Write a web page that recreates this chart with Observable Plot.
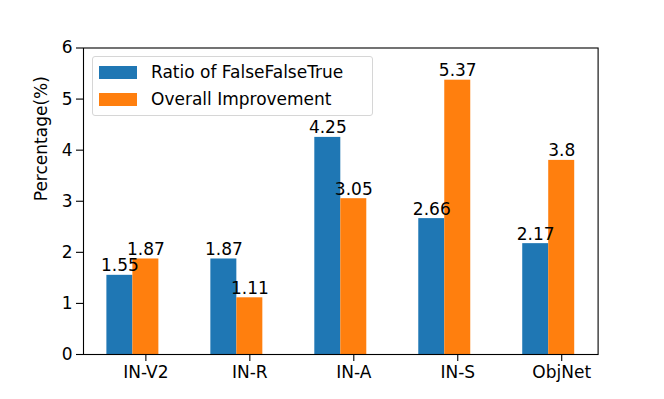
<!DOCTYPE html>
<html><head><meta charset="utf-8">
<script src="https://cdn.jsdelivr.net/npm/d3@7"></script>
<script src="https://cdn.jsdelivr.net/npm/@observablehq/plot@0.6"></script>
<style>
body{margin:0;background:#fff;font-family:"DejaVu Sans",sans-serif;}
#wrap{position:relative;width:664px;height:399px;}
#legend{position:absolute;left:92px;top:56px;width:279px;height:58px;border:1px solid #d6d6d6;border-radius:3px;background:rgba(255,255,255,0.8);font-size:17px;}
.item{position:absolute;left:6px;display:flex;align-items:center;height:20px;line-height:20px;}
.sw{width:38px;height:13px;margin-right:14px;}
</style></head>
<body><div id="wrap"><div id="legend"></div></div>
<script>
const categories = ["IN-V2", "IN-R", "IN-A", "IN-S", "ObjNet"];
const seriesNames = ["Ratio of FalseFalseTrue", "Overall Improvement"];
const ratioValues = [1.55, 1.87, 4.25, 2.66, 2.17];
const improvementValues = [1.87, 1.11, 3.05, 5.37, 3.8];
const labelTexts = [["1.55","1.87","4.25","2.66","2.17"],["1.87","1.11","3.05","5.37","3.8"]];
const colors = ["#1f77b4", "#ff7f0e"];
const yTicks = [0,1,2,3,4,5,6];

const bw = 0.25;
const rows = [];
[ratioValues, improvementValues].forEach((vals, s) => {
  vals.forEach((v, i) => {
    const off = s === 0 ? -bw : 0;
    rows.push({i, s, v, x1: i + off - bw/2, x2: i + off + bw/2, xc: i + off, label: labelTexts[s][i]});
  });
});

const fs = 17;
const chart = Plot.plot({
  width: 664, height: 399,
  marginLeft: 83, marginRight: 66.4, marginTop: 47.5, marginBottom: 45,
  style: {fontFamily: "DejaVu Sans, sans-serif", fontSize: fs + "px", color: "#000", background: "#fff"},
  x: {type: "linear", domain: [-0.6, 4.35]},
  y: {domain: [0, 6]},
  marks: [
    Plot.rect(rows, {x1: "x1", x2: "x2", y1: 0, y2: "v", fill: d => colors[d.s]}),
    Plot.text(rows, {x: "xc", y: "v", text: "label", lineAnchor: "bottom", dy: -4, fontSize: fs, fill: "#000"}),
    Plot.frame({stroke: "#000", strokeWidth: 1.1}),
    Plot.axisY({ticks: yTicks, tickFormat: d => String(d), tickSize: 7, tickPadding: 4, fontSize: fs, label: null, stroke: "#000", strokeWidth: 1.1}),
    Plot.axisX({ticks: [0,1,2,3,4], tickFormat: i => categories[i], tickSize: 7, tickPadding: 4, fontSize: fs, label: null, stroke: "#000", strokeWidth: 1.1}),
    Plot.text(["Percentage(%)"], {frameAnchor: "left", dx: -42, rotate: -90, fontSize: fs, fill: "#000", text: d => d})
  ]
});
document.getElementById("wrap").prepend(chart);
const lg = document.getElementById("legend");
seriesNames.forEach((n, k) => {
  const it = document.createElement("div");
  it.className = "item";
  it.style.top = (k === 0 ? 5 : 32) + "px";
  it.innerHTML = `<div class="sw" style="background:${colors[k]}"></div><span>${n}</span>`;
  lg.appendChild(it);
});
</script></body></html>
